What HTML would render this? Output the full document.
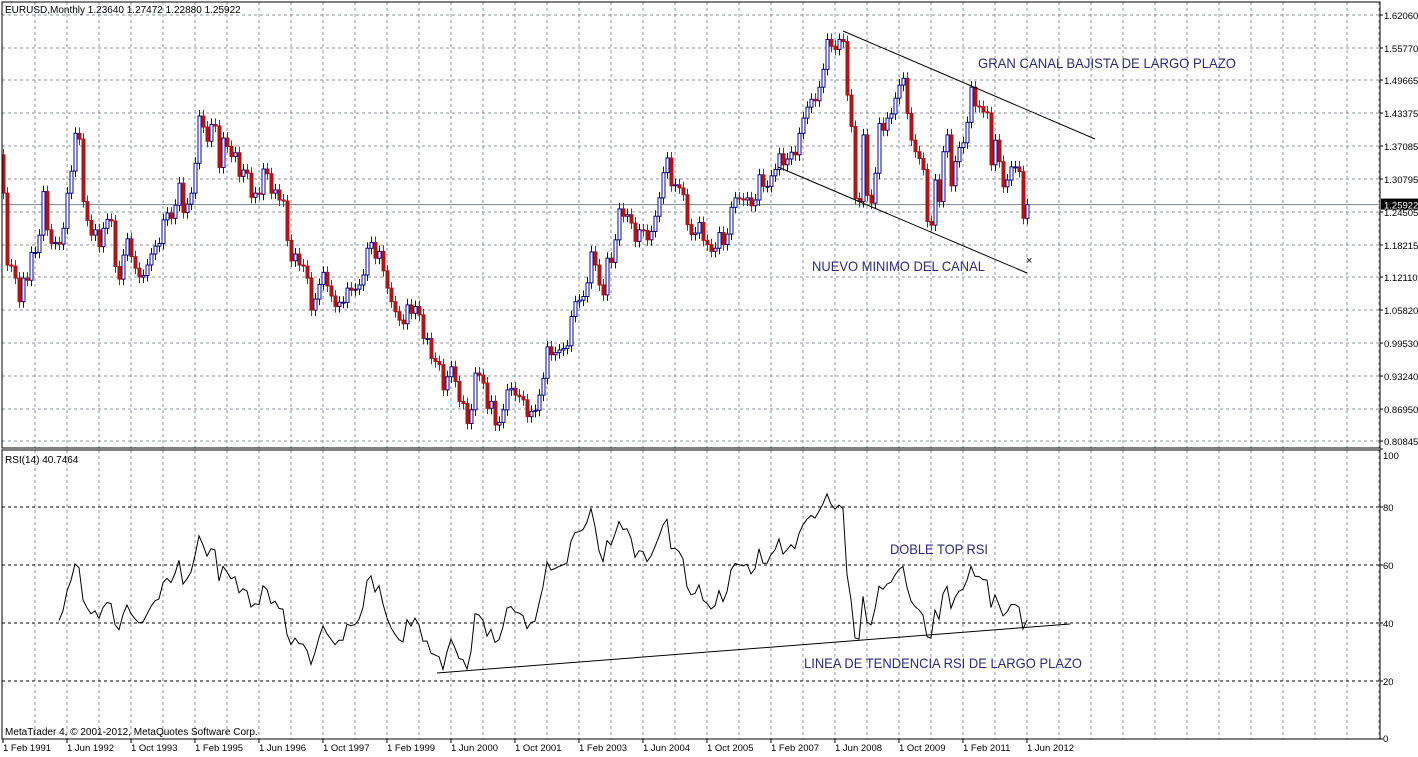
<!DOCTYPE html>
<html><head><meta charset="utf-8"><style>
html,body{margin:0;padding:0;background:#fff;}
svg{display:block;font-family:"Liberation Sans",sans-serif;}
</style></head><body>
<svg id="chart" width="1418" height="757" viewBox="0 0 1418 757" xmlns="http://www.w3.org/2000/svg">
<g id="grid"></g>
<g id="candles"></g>
<g id="rsi"></g>
<g id="axes"></g>
<text x="5" y="13" font-size="10">EURUSD,Monthly  1.23640 1.27472 1.22880 1.25922</text>
<text x="5" y="463" font-size="10">RSI(14) 40.7464</text>
<text x="5" y="735" font-size="10">MetaTrader 4, © 2001-2012, MetaQuotes Software Corp.</text>
<line x1="843" y1="31" x2="1095" y2="139" stroke="#000" stroke-width="1"/>
<line x1="778" y1="167" x2="1027" y2="273" stroke="#000" stroke-width="1"/>
<text x="978" y="68" font-size="14" fill="#2b2b78" textLength="258" lengthAdjust="spacingAndGlyphs">GRAN CANAL BAJISTA DE LARGO PLAZO</text>
<text x="812" y="271" font-size="14" fill="#2b2b78" textLength="173" lengthAdjust="spacingAndGlyphs">NUEVO MINIMO DEL CANAL</text>
<text x="1026" y="264" font-size="11" fill="#000">×</text>
<line x1="437" y1="673" x2="1070" y2="624" stroke="#000" stroke-width="1"/>
<text x="890" y="554" font-size="14" fill="#2b2b78" textLength="98" lengthAdjust="spacingAndGlyphs">DOBLE TOP RSI</text>
<text x="804" y="668" font-size="14" fill="#2b2b78" textLength="278" lengthAdjust="spacingAndGlyphs">LINEA DE TENDENCIA RSI DE LARGO PLAZO</text>
</svg>
<script>
const closes = [1.281,1.144,1.142,1.119,1.074,1.119,1.115,1.168,1.168,1.201,1.284,1.211,1.185,1.187,1.184,1.214,1.281,1.323,1.395,1.384,1.265,1.229,1.201,1.211,1.179,1.214,1.231,1.228,1.141,1.117,1.163,1.194,1.160,1.138,1.121,1.124,1.144,1.165,1.180,1.185,1.230,1.243,1.233,1.258,1.300,1.244,1.260,1.281,1.338,1.428,1.407,1.380,1.412,1.409,1.330,1.386,1.370,1.351,1.358,1.313,1.325,1.319,1.273,1.281,1.279,1.327,1.318,1.281,1.287,1.268,1.266,1.191,1.152,1.165,1.144,1.142,1.119,1.058,1.079,1.107,1.130,1.104,1.085,1.065,1.073,1.073,1.100,1.096,1.098,1.106,1.125,1.176,1.187,1.157,1.170,1.133,1.100,1.074,1.055,1.039,1.032,1.068,1.052,1.065,1.049,1.004,1.004,0.966,0.960,0.954,0.906,0.931,0.950,0.922,0.884,0.880,0.842,0.868,0.938,0.934,0.919,0.871,0.884,0.839,0.844,0.868,0.906,0.909,0.896,0.893,0.887,0.855,0.865,0.867,0.896,0.928,0.988,0.973,0.977,0.982,0.985,0.990,1.046,1.074,1.077,1.084,1.110,1.169,1.144,1.106,1.087,1.157,1.149,1.192,1.251,1.237,1.240,1.224,1.189,1.211,1.210,1.192,1.208,1.237,1.272,1.320,1.348,1.295,1.297,1.291,1.278,1.221,1.202,1.205,1.225,1.191,1.183,1.170,1.176,1.206,1.183,1.203,1.254,1.272,1.270,1.268,1.272,1.257,1.268,1.316,1.294,1.294,1.314,1.326,1.356,1.335,1.346,1.359,1.354,1.395,1.424,1.445,1.460,1.457,1.483,1.517,1.574,1.561,1.555,1.574,1.570,1.468,1.408,1.271,1.265,1.392,1.277,1.262,1.319,1.414,1.401,1.424,1.432,1.462,1.487,1.500,1.433,1.382,1.360,1.347,1.326,1.227,1.220,1.306,1.265,1.360,1.392,1.295,1.341,1.368,1.377,1.416,1.483,1.447,1.446,1.436,1.434,1.335,1.382,1.341,1.293,1.306,1.331,1.331,1.322,1.233,1.259];
const firstOpen = 1.354;
const priceTicks = ["1.62060","1.55770","1.49665","1.43375","1.37085","1.30795","1.24505","1.18215","1.12110","1.05820","0.99530","0.93240","0.86950","0.80845"];
const rsiTicks = [100,80,60,40,20,0];
const rsiLevels = [80,60,40,20];
const dateLabels = ["1 Feb 1991","1 Jun 1992","1 Oct 1993","1 Feb 1995","1 Jun 1996","1 Oct 1997","1 Feb 1999","1 Jun 2000","1 Oct 2001","1 Feb 2003","1 Jun 2004","1 Oct 2005","1 Feb 2007","1 Jun 2008","1 Oct 2009","1 Feb 2011","1 Jun 2012"];
const lastPrice = 1.25922;

const NS="http://www.w3.org/2000/svg";
const L=2,R=1380,MT=2,MB=448,RT=450,RB=739;
function xOf(i){return 3+4*i;}
function yP(p){return 15+(1.6206-p)*524.6;}
function yR(v){return RB-2.9*v;}
function mk(tag,attrs,parent){const e=document.createElementNS(NS,tag);for(const k in attrs)e.setAttribute(k,attrs[k]);parent.appendChild(e);return e;}
const grid=document.getElementById('grid'),cg=document.getElementById('candles'),rg=document.getElementById('rsi'),ax=document.getElementById('axes');

for(let x=35;x<R;x+=32){
  const a=mk('line',{x1:x,y1:MT,x2:x,y2:MB,stroke:'#8a949c','stroke-dasharray':'3,3'},grid);
  
  
  const b=mk('line',{x1:x,y1:RT,x2:x,y2:RB,stroke:'#8a949c','stroke-dasharray':'3,3'},grid);
  
  
}
priceTicks.forEach(t=>{
  const y=yP(parseFloat(t));
  const l=mk('line',{x1:L,y1:y,x2:R,y2:y,stroke:'#8a949c','stroke-dasharray':'3,3'},grid);
  
  
  mk('line',{x1:R,y1:y,x2:R+3,y2:y,stroke:'#000'},ax);
  const tx=mk('text',{x:1384,y:y+4,'font-size':'9.5'},ax);tx.textContent=t;
  
  
});
const ly=yP(lastPrice);
const lp=mk('line',{x1:L,y1:ly,x2:R,y2:ly,stroke:'#7a8590'},grid);


const lb=mk('rect',{x:1381,y:ly-6,width:37,height:11,fill:'#000'},ax);


const lt=mk('text',{x:1384,y:ly+4,'font-size':'9.5',fill:'#fff'},ax);lt.textContent=lastPrice.toFixed(5);



closes.forEach((c,i)=>{
  const o=i===0?firstOpen:closes[i-1];
  const x=xOf(i);
  const up=c>=o;
  const col=up?'#0a0a8c':'#b01515';
  const yo=yP(o),yc=yP(c);
  const top=Math.min(yo,yc),bot=Math.max(yo,yc);
  const w=mk('line',{x1:x+0.5,y1:top-6,x2:x+0.5,y2:bot+6,stroke:col},cg);
  
  
  const b=mk('rect',{x:x-1,y:top,width:3,height:Math.max(1,bot-top),fill:up?'#fff':col,stroke:col,'stroke-width':'1'},cg);
  
  
});

rsiLevels.forEach(v=>{
  const l=mk('line',{x1:L,y1:yR(v),x2:R,y2:yR(v),stroke:'#000','stroke-dasharray':'3,3'},grid);
  
  
});
rsiTicks.forEach(v=>{
  let y=yR(v)+4; if(v===100)y+=6; if(v===0)y-=1;
  mk('line',{x1:R,y1:yR(v),x2:R+3,y2:yR(v),stroke:'#000'},ax);
  const t=mk('text',{x:1383,y:y,'font-size':'9.5'},ax);t.textContent=v;
  
  
});
const N=14;let ag=0,al=0;const rsiPts=[];
for(let i=1;i<closes.length;i++){
  const d=closes[i]-closes[i-1];const g=Math.max(d,0),lo=Math.max(-d,0);
  if(i<=N){ag+=g/N;al+=lo/N;}else{ag=(ag*(N-1)+g)/N;al=(al*(N-1)+lo)/N;}
  if(i>=N){const r=al===0?100:100-100/(1+ag/al);rsiPts.push(xOf(i)+','+yR(r).toFixed(1));}
}
const rl=mk('polyline',{points:rsiPts.join(' '),fill:'none',stroke:'#000','stroke-width':'1'},rg);



dateLabels.forEach((d,k)=>{
  const x=xOf(16*k);
  mk('line',{x1:x,y1:RB,x2:x,y2:RB+4,stroke:'#000'},ax);
  const t=mk('text',{x:x,y:751,'font-size':'9.5'},ax);t.textContent=d;
  
  
});
const bm=mk('rect',{x:L,y:MT,width:R-L,height:MB-MT,fill:'none',stroke:'#000','stroke-width':'1'},ax);


const br=mk('rect',{x:L,y:RT,width:R-L,height:RB-RT,fill:'none',stroke:'#000','stroke-width':'1'},ax);


</script>
</body></html>
